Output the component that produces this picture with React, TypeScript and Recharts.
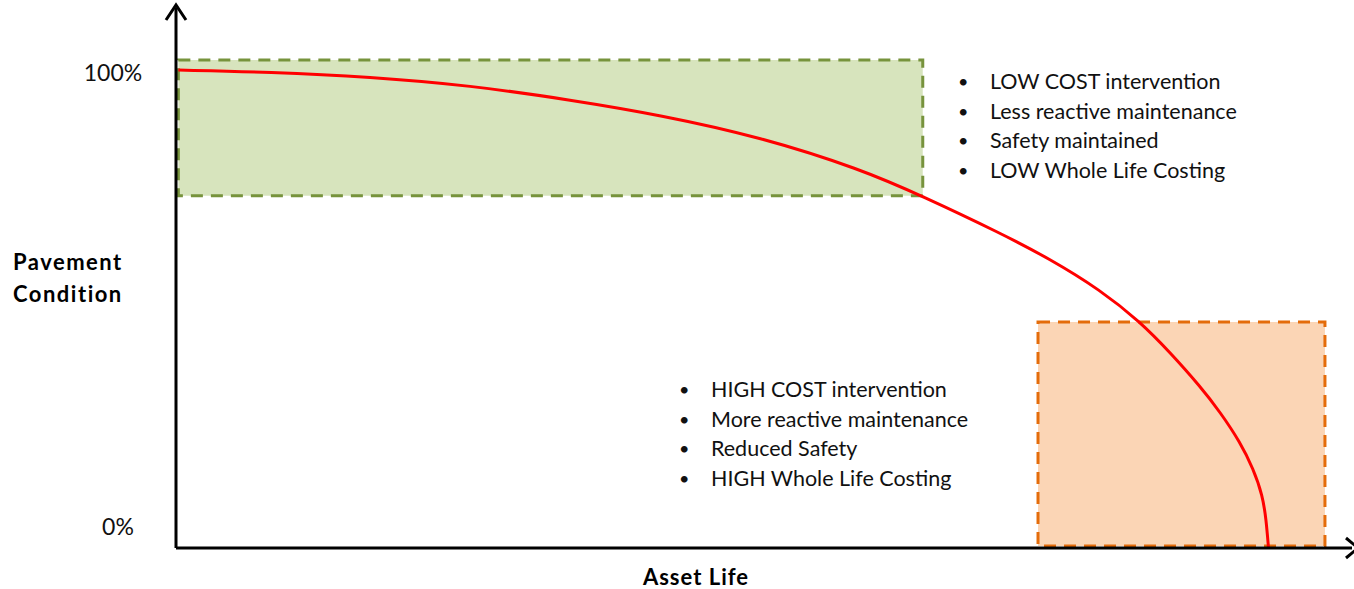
import { LineChart, Line, XAxis, YAxis, ReferenceArea, ReferenceDot } from 'recharts';

// asset life (0-100 along the x axis) and pavement condition (%)
const curveLife = [0.2, 8, 16.5, 25, 33.5, 41.2, 49.7, 58.2, 63.5, 70.1, 74.3, 78.6, 82, 84.5, 87.1, 88.8, 90.5, 91.6, 92.4, 92.7, 92.9];
const curveCondition = [100, 99.6, 98.6, 96.8, 93.8, 90.6, 86.0, 79.3, 73.6, 65.9, 60.5, 54.0, 47.3, 41.0, 33.8, 28.4, 22.1, 16.6, 11.0, 5.9, 0];

const goodZoneLife = [0.2, 63.5];
const goodZoneCondition = [73.7, 102.1];
const poorZoneLife = [73.3, 97.7];
const poorZoneCondition = [0.4, 47.3];

const conditionTicks = [0, 100];
const tickLabels = ['0%', '100%'];

const lowCostPoints = ['LOW COST intervention', 'Less reactive maintenance', 'Safety maintained', 'LOW Whole Life Costing'];
const highCostPoints = ['HIGH COST intervention', 'More reactive maintenance', 'Reduced Safety', 'HIGH Whole Life Costing'];

const data = curveLife.map((life, i) => ({ life, condition: curveCondition[i] }));

const FONT = 'Lato, "Open Sans", sans-serif';

const ConditionTick = (props: any) => {
  const { x, y, payload } = props;
  const idx = conditionTicks.indexOf(payload.value);
  // the 0% label sits a bit above the axis in the original
  const isZero = payload.value === 0;
  const dy = isZero ? -21 : 3;
  const dx = isZero ? -50 : -55;
  return (
    <text x={x + dx} y={y + dy} dy="0.35em" textAnchor="middle" fontSize={23} fontFamily={FONT} fill="#111">
      {tickLabels[idx]}
    </text>
  );
};

const UpArrow = (props: any) => {
  const { cx, cy } = props;
  return <polyline points={`${cx - 10},${cy + 12} ${cx},${cy - 3} ${cx + 10},${cy + 12}`} fill="none" stroke="#000" strokeWidth={3} />;
};

const RightArrow = (props: any) => {
  const { cx, cy } = props;
  return <polyline points={`${cx - 6},${cy - 10} ${cx + 6},${cy} ${cx - 6},${cy + 10}`} fill="none" stroke="#000" strokeWidth={3} />;
};

function BulletList({ items, left, top }: { items: string[]; left: number; top: number }) {
  return (
    <div style={{ position: 'absolute', left, top, fontFamily: FONT, fontSize: 21.5, lineHeight: '29.7px', color: '#111' }}>
      {items.map((t) => (
        <div key={t} style={{ display: 'flex', whiteSpace: 'nowrap' }}>
          <span style={{ width: 32, display: 'inline-block', fontSize: 18 }}>•</span>
          <span>{t}</span>
        </div>
      ))}
    </div>
  );
}

export default function App() {
  return (
    <div style={{ position: 'absolute', left: 0, top: 0, width: 1354, height: 589, background: '#fff', overflow: 'hidden' }}>
      <LineChart width={1354} height={589} data={data} margin={{ top: 8, right: 2, bottom: 40, left: 0 }}>
        <XAxis dataKey="life" type="number" domain={[0, 100]} tick={false} tickLine={false} height={1} axisLine={{ stroke: '#000', strokeWidth: 3 }} />
        <YAxis type="number" domain={[0, 113]} ticks={conditionTicks} tick={<ConditionTick />} tickLine={false} width={176} axisLine={{ stroke: '#000', strokeWidth: 3 }} />
        <ReferenceArea
          x1={goodZoneLife[0]}
          x2={goodZoneLife[1]}
          y1={goodZoneCondition[0]}
          y2={goodZoneCondition[1]}
          fill="#d7e4bd"
          fillOpacity={1}
          stroke="#77933c"
          strokeWidth={3}
          strokeDasharray="12 8"
          ifOverflow="visible"
        />
        <ReferenceArea
          x1={poorZoneLife[0]}
          x2={poorZoneLife[1]}
          y1={poorZoneCondition[0]}
          y2={poorZoneCondition[1]}
          fill="#fbd5b5"
          fillOpacity={1}
          stroke="#e46c0a"
          strokeWidth={3}
          strokeDasharray="12 8"
          ifOverflow="visible"
        />
        <Line type="basis" dataKey="condition" stroke="#ff0000" strokeWidth={3} dot={false} isAnimationActive={false} />
        <ReferenceDot x={0} y={113} ifOverflow="visible" shape={<UpArrow />} />
        <ReferenceDot x={100} y={0} ifOverflow="visible" shape={<RightArrow />} />
      </LineChart>

      <BulletList items={lowCostPoints} left={958} top={67} />
      <BulletList items={highCostPoints} left={679} top={375} />

      <div style={{ position: 'absolute', left: 13, top: 246, fontFamily: FONT, fontWeight: 700, fontSize: 22, letterSpacing: 1.5, lineHeight: '32px', color: '#000' }}>
        Pavement
        <br />
        Condition
      </div>
      <div style={{ position: 'absolute', left: 596, width: 200, top: 565, textAlign: 'center', fontFamily: FONT, fontWeight: 700, fontSize: 22, letterSpacing: 1, lineHeight: '24px', color: '#000' }}>
        Asset Life
      </div>
    </div>
  );
}
